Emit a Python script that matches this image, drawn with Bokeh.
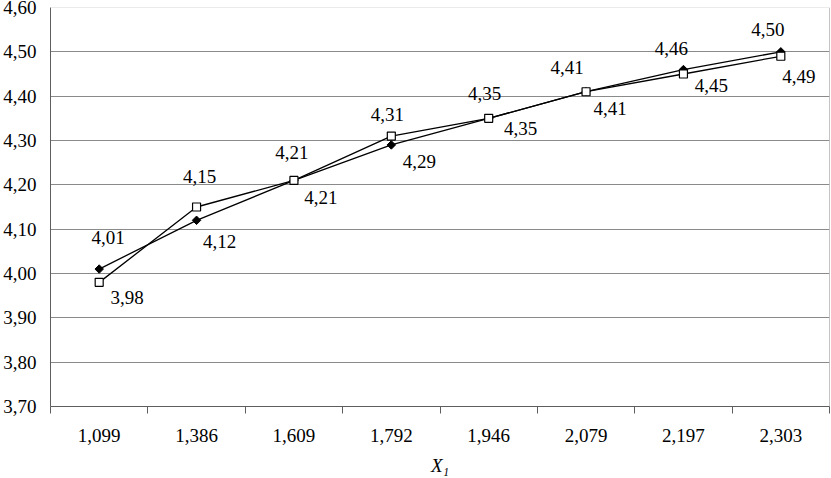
import math
from bokeh.plotting import figure
from bokeh.models import (ColumnDataSource, FixedTicker, CustomJSTickFormatter,
                          Range1d, Span)
from bokeh.embed import file_html
from bokeh.resources import INLINE

# ---- data ----
categories = ["1,099", "1,386", "1,609", "1,792", "1,946", "2,079", "2,197", "2,303"]
series_a = [4.01, 4.12, 4.21, 4.29, 4.35, 4.41, 4.46, 4.50]   # filled diamonds
series_b = [3.98, 4.15, 4.21, 4.31, 4.35, 4.41, 4.45, 4.49]   # open squares
y_ticks = [3.70, 3.80, 3.90, 4.00, 4.10, 4.20, 4.30, 4.40, 4.50, 4.60]
x_title = "X₁"

# label offsets (screen px) - styling only
a_dx = [9, 23, -2, 28, -4, -19, -12, -13]
a_dy = [-32, 21, -28, 17, -25, -24, -21, -22]
b_dx = [28, 3, 27, -4, 32, 24, 28, 18]
b_dy = [15, -31, 17, -22, 10, 17, 11, 20]

FONT = "Liberation Serif"
FS = "19px"
GRID = "#8a8a8a"
AXIS = "#5e5e5e"

xs = [i + 1 for i in range(len(categories))]

def fmt(v):
    return f"{v:.2f}".replace(".", ",")

src_a = ColumnDataSource(dict(x=xs, y=series_a, lab=[fmt(v) for v in series_a], dx=a_dx, dy=a_dy))
src_b = ColumnDataSource(dict(x=xs, y=series_b, lab=[fmt(v) for v in series_b], dx=b_dx, dy=b_dy))

p = figure(width=831, height=478, output_backend="svg", toolbar_location=None,
           x_range=Range1d(0.5, len(categories) + 0.5),
           y_range=Range1d(y_ticks[0], y_ticks[-1]),
           min_border_left=49, min_border_right=2, min_border_top=7, min_border_bottom=71)

p.background_fill_color = "white"
p.border_fill_color = "white"
p.outline_line_color = None

# x axis
p.xaxis.ticker = FixedTicker(ticks=xs, minor_ticks=[i + 0.5 for i in range(len(categories) + 1)])
p.xaxis.major_label_overrides = {x: c for x, c in zip(xs, categories)}
p.xaxis.major_tick_line_color = None
p.xaxis.major_tick_out = 0
p.xaxis.major_tick_in = 0
p.xaxis.minor_tick_line_color = AXIS
p.xaxis.minor_tick_out = 7
p.xaxis.minor_tick_in = 0
p.xaxis.axis_line_color = AXIS
p.xaxis.major_label_standoff = 15
p.xaxis.major_label_text_font = FONT
p.xaxis.major_label_text_font_size = FS
p.xaxis.major_label_text_color = "black"
p.xaxis.axis_label = x_title
p.xaxis.axis_label_text_font = FONT
p.xaxis.axis_label_text_font_style = "italic"
p.xaxis.axis_label_text_font_size = FS
p.xaxis.axis_label_text_color = "black"
p.xaxis.axis_label_standoff = 10
p.xgrid.grid_line_color = None

# y axis
p.yaxis.ticker = FixedTicker(ticks=y_ticks)
p.yaxis.formatter = CustomJSTickFormatter(code="return tick.toFixed(2).replace('.', ',');")
p.yaxis.major_tick_line_color = None
p.yaxis.major_tick_out = 0
p.yaxis.major_tick_in = 0
p.yaxis.minor_tick_line_color = None
p.yaxis.axis_line_color = AXIS
p.yaxis.major_label_standoff = 14
p.yaxis.major_label_text_font = FONT
p.yaxis.major_label_text_font_size = FS
p.yaxis.major_label_text_color = "black"
p.ygrid.ticker = FixedTicker(ticks=y_ticks[1:-1])
p.ygrid.grid_line_color = GRID
p.ygrid.grid_line_width = 1

# frame edges
p.add_layout(Span(location=len(categories) + 0.5, dimension="height", line_color=GRID, line_width=1))
p.add_layout(Span(location=y_ticks[-1], dimension="width", line_color="#d8d8d8", line_width=1))

# series
p.line("x", "y", source=src_a, line_color="black", line_width=1.3)
p.line("x", "y", source=src_b, line_color="black", line_width=1.3)
p.scatter("x", "y", source=src_a, marker="square", angle=math.pi / 4, size=6,
          fill_color="black", line_color="black")
p.scatter("x", "y", source=src_b, marker="square", size=8, fill_color="white",
          line_color="black", line_width=1.2)

for s in (src_a, src_b):
    p.text("x", "y", text="lab", source=s, x_offset="dx", y_offset="dy",
           text_align="center", text_baseline="middle",
           text_font=FONT, text_font_size=FS, text_color="black")

open("out.html", "w").write(file_html(p, INLINE))
